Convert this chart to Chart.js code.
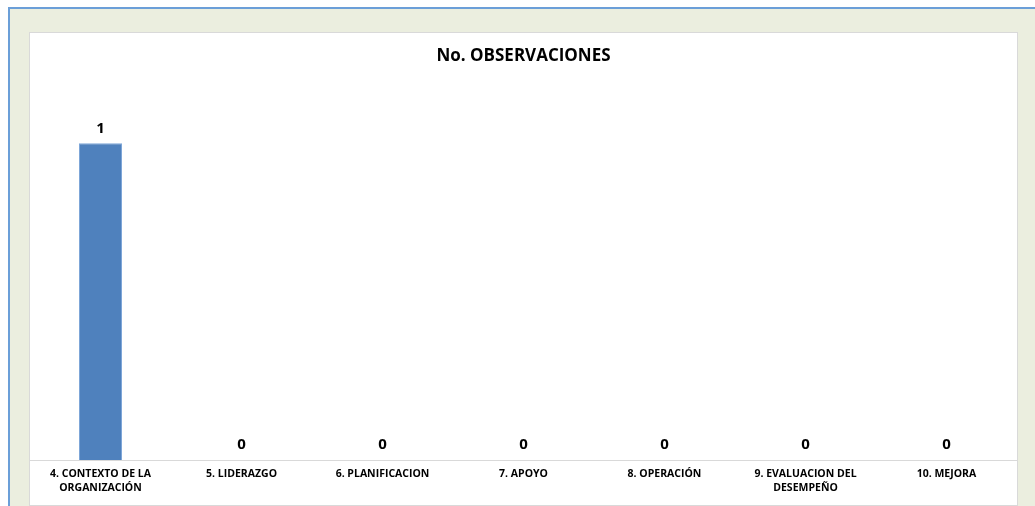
<!DOCTYPE html>
<html><head><meta charset="utf-8">
<script src="https://cdn.jsdelivr.net/npm/chart.js@4.4.1/dist/chart.umd.min.js"></script>
<style>
html,body{margin:0;padding:0;background:#fff;width:1035px;height:506px;overflow:hidden;}
#outer{position:absolute;left:8px;top:7px;width:1030px;height:505px;background:#ebeedf;border-top:2px solid #6b9fd8;border-left:2px solid #6b9fd8;}
#inner{position:absolute;left:29px;top:32px;width:987px;height:472px;background:#fff;border:1px solid #d9d9d9;}
canvas{position:absolute;left:0;top:0;}
</style></head>
<body>
<div id="outer"></div>
<div id="inner"><canvas id="c" width="987" height="472"></canvas></div>
<script>
const categories = [
  ["4. CONTEXTO DE LA","ORGANIZACIÓN"],
  "5. LIDERAZGO",
  "6. PLANIFICACION",
  "7. APOYO",
  "8. OPERACIÓN",
  ["9. EVALUACION DEL","DESEMPEÑO"],
  "10. MEJORA"
];
const observaciones = [1, 0, 0, 0, 0, 0, 0];
const chartTitle = "No. OBSERVACIONES";

const FONT = "'Open Sans', 'Liberation Sans', sans-serif";

const valueLabels = {
  id: 'valueLabels',
  afterDatasetsDraw(chart) {
    const ctx = chart.ctx;
    const meta = chart.getDatasetMeta(0);
    ctx.save();
    ctx.font = "bold 15px " + FONT;
    ctx.fillStyle = "#000";
    ctx.textAlign = "center";
    ctx.textBaseline = "middle";
    meta.data.forEach((bar, i) => {
      ctx.fillText(String(chart.data.datasets[0].data[i]), bar.x, bar.y - 15);
    });
    ctx.restore();
  }
};

new Chart(document.getElementById('c'), {
  type: 'bar',
  data: {
    labels: categories,
    datasets: [{
      data: observaciones,
      backgroundColor: '#4f81bd',
      borderColor: '#7ea6d8',
      borderWidth: {left:1,right:1,top:1,bottom:0},
      categoryPercentage: 1,
      barPercentage: 0.305
    }]
  },
  options: {
    responsive: false,
    animation: false,
    layout: { padding: { left: 0, right: 0, top: 0, bottom: 3 } },
    plugins: {
      legend: { display: false },
      tooltip: { enabled: false },
      title: {
        display: true,
        text: chartTitle,
        color: '#000',
        font: { family: FONT, size: 17, weight: 'bold', lineHeight: 1.2 },
        padding: { top: 13, bottom: 13.6 }
      }
    },
    scales: {
      x: {
        grid: { display: false, drawTicks: false, tickLength: 0 },
        border: { display: true, color: '#d9d9d9', width: 1 },
        ticks: {
          color: '#000',
          font: { family: FONT, size: 10.5, weight: 'bold', lineHeight: 1.33 },
          maxRotation: 0, autoSkip: false, padding: 7
        }
      },
      y: {
        display: false,
        min: 0, max: 1.2
      }
    }
  },
  plugins: [valueLabels]
});
</script>
</body></html>
